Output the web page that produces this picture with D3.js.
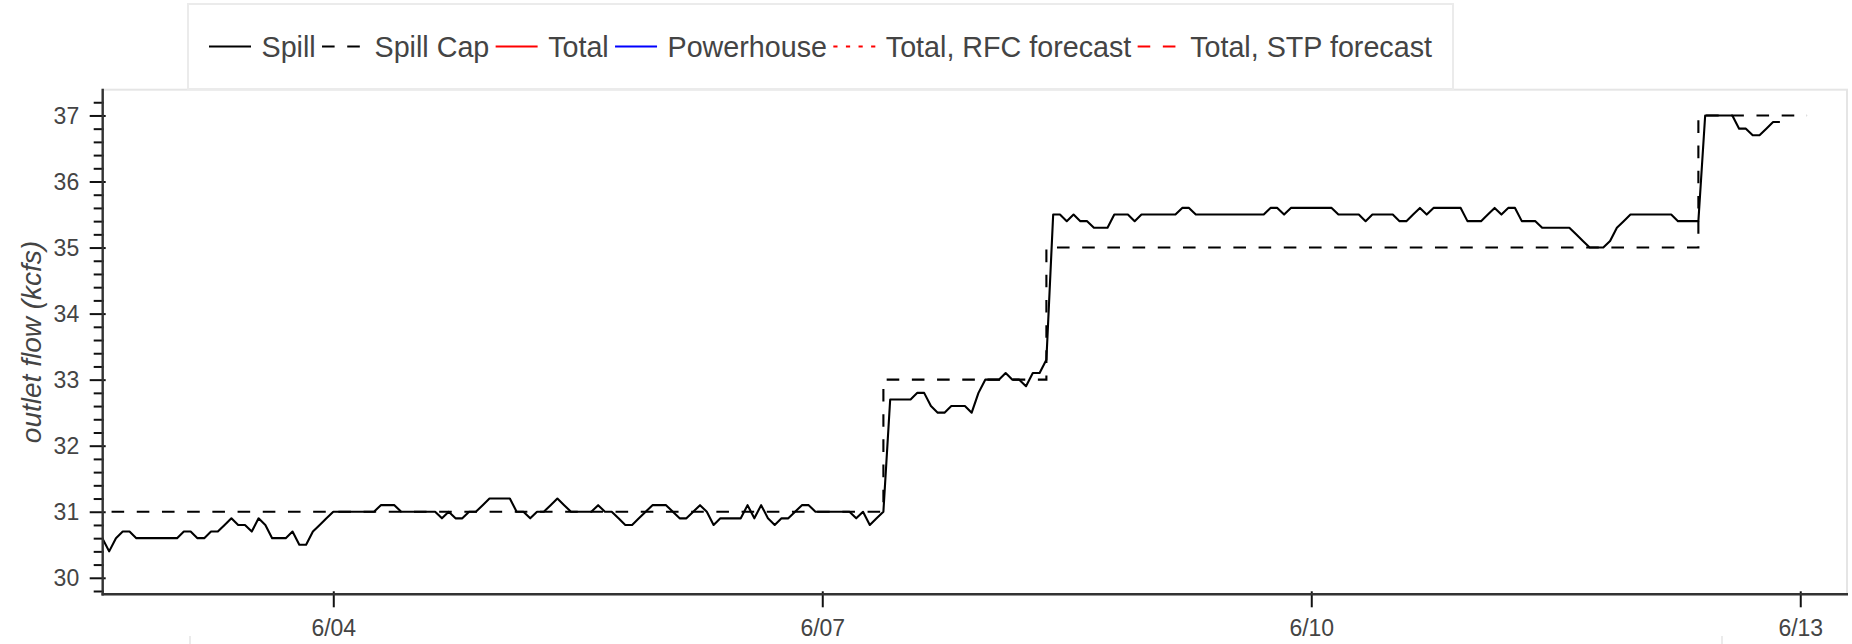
<!DOCTYPE html>
<html>
<head>
<meta charset="utf-8">
<script src="https://cdn.jsdelivr.net/npm/d3@7"></script>
<style>
  html, body { margin: 0; padding: 0; background: #fff; }
  svg { display: block; font-family: "Liberation Sans", Arial, Helvetica, sans-serif; }
</style>
</head>
<body>
<svg id="chart" width="1852" height="644"></svg>
<script>
// Hourly spill readings (kcfs), first reading at spillStart
const spillStart = "2024-06-02T14:00";
const spillValues = [
  // 6/02 14:00 - 23:00
  30.6, 30.4, 30.6, 30.7, 30.7, 30.6, 30.6, 30.6, 30.6, 30.6,
  // 6/03
  30.6, 30.6, 30.7, 30.7, 30.6, 30.6, 30.7, 30.7, 30.8, 30.9, 30.8, 30.8,
  30.7, 30.9, 30.8, 30.6, 30.6, 30.6, 30.7, 30.5, 30.5, 30.7, 30.8, 30.9,
  // 6/04
  31.0, 31.0, 31.0, 31.0, 31.0, 31.0, 31.0, 31.1, 31.1, 31.1, 31.0, 31.0,
  31.0, 31.0, 31.0, 31.0, 30.9, 31.0, 30.9, 30.9, 31.0, 31.0, 31.1, 31.2,
  // 6/05
  31.2, 31.2, 31.2, 31.0, 31.0, 30.9, 31.0, 31.0, 31.1, 31.2, 31.1, 31.0,
  31.0, 31.0, 31.0, 31.1, 31.0, 31.0, 30.9, 30.8, 30.8, 30.9, 31.0, 31.1,
  // 6/06
  31.1, 31.1, 31.0, 30.9, 30.9, 31.0, 31.1, 31.0, 30.8, 30.9, 30.9, 30.9,
  30.9, 31.1, 30.9, 31.1, 30.9, 30.8, 30.9, 30.9, 31.0, 31.1, 31.1, 31.0,
  // 6/07
  31.0, 31.0, 31.0, 31.0, 31.0, 30.9, 31.0, 30.8, 30.9, 31.0, 32.7, 32.7,
  32.7, 32.7, 32.8, 32.8, 32.6, 32.5, 32.5, 32.6, 32.6, 32.6, 32.5, 32.8,
  // 6/08
  33.0, 33.0, 33.0, 33.1, 33.0, 33.0, 32.9, 33.1, 33.1, 33.3, 35.5, 35.5,
  35.4, 35.5, 35.4, 35.4, 35.3, 35.3, 35.3, 35.5, 35.5, 35.5, 35.4, 35.5,
  // 6/09
  35.5, 35.5, 35.5, 35.5, 35.5, 35.6, 35.6, 35.5, 35.5, 35.5, 35.5, 35.5,
  35.5, 35.5, 35.5, 35.5, 35.5, 35.5, 35.6, 35.6, 35.5, 35.6, 35.6, 35.6,
  // 6/10
  35.6, 35.6, 35.6, 35.6, 35.5, 35.5, 35.5, 35.5, 35.4, 35.5, 35.5, 35.5,
  35.5, 35.4, 35.4, 35.5, 35.6, 35.5, 35.6, 35.6, 35.6, 35.6, 35.6, 35.4,
  // 6/11
  35.4, 35.4, 35.5, 35.6, 35.5, 35.6, 35.6, 35.4, 35.4, 35.4, 35.3, 35.3,
  35.3, 35.3, 35.3, 35.2, 35.1, 35.0, 35.0, 35.0, 35.1, 35.3, 35.4, 35.5,
  // 6/12 00:00 - 21:00
  35.5, 35.5, 35.5, 35.5, 35.5, 35.5, 35.4, 35.4, 35.4, 35.4, 37.0, 37.0,
  37.0, 37.0, 37.0, 36.8, 36.8, 36.7, 36.7, 36.8, 36.9, 36.9
];

// Spill cap schedule: each value holds until the next time
const capTimes = ["2024-06-02T14:00", "2024-06-07T09:00", "2024-06-08T09:00", "2024-06-12T09:00", "2024-06-13T01:00"];
const capValues = [31, 33, 35, 37, 37];

// Axis extents and ticks
const xDomain = ["2024-06-02T14:03", "2024-06-13T06:53"];
const yDomain = [29.75, 37.39];
const yMajorTicks = [30, 31, 32, 33, 34, 35, 36, 37];
const yMinorStep = 0.2;
const yAxisTitle = "outlet flow (kcfs)";

// Legend entries
const legendLabels = ["Spill", "Spill Cap", "Total", "Powerhouse", "Total, RFC forecast", "Total, STP forecast"];

const legendStyle = {
  "Spill":               { color: "#000", dash: null },
  "Spill Cap":           { color: "#000", dash: "12.6,12.6" },
  "Total":               { color: "#ff0000", dash: null },
  "Powerhouse":          { color: "#0000ff", dash: null },
  "Total, RFC forecast": { color: "#ff0000", dash: "4.2,8.4" },
  "Total, STP forecast": { color: "#ff0000", dash: "12.6,12.6" }
};

const parse = d3.timeParse("%Y-%m-%dT%H:%M");
const t0 = parse(spillStart);
const spill = spillValues.map((v, i) => ({ t: d3.timeHour.offset(t0, i), v }));
const cap = capTimes.map((s, i) => ({ t: parse(s), v: capValues[i] }));

const frame = { left: 102.7, right: 1847, top: 89.7, bottom: 594.3 };
const svg = d3.select("#chart");
const textColor = "#444";

const x = d3.scaleTime().domain(xDomain.map(parse)).range([frame.left, frame.right]);
const y = d3.scaleLinear().domain(yDomain).range([frame.bottom, frame.top]);

// frame outline
svg.append("rect")
  .attr("x", frame.left).attr("y", frame.top)
  .attr("width", frame.right - frame.left).attr("height", frame.bottom - frame.top)
  .attr("fill", "none").attr("stroke", "#e5e5e5").attr("stroke-width", 2);

// Series
const plot = svg.append("g");

plot.append("path")
  .datum(cap)
  .attr("fill", "none")
  .attr("stroke", "#000")
  .attr("stroke-width", 2.1)
  .attr("stroke-dasharray", "12.6,12.6")
  .attr("stroke-dashoffset", 16)
  .attr("d", d3.line().curve(d3.curveStepAfter).x(d => x(d.t)).y(d => y(d.v)));

plot.append("path")
  .datum(spill)
  .attr("fill", "none")
  .attr("stroke", "#000")
  .attr("stroke-width", 2.1)
  .attr("stroke-linejoin", "round")
  .attr("d", d3.line().x(d => x(d.t)).y(d => y(d.v)));

// Y axis: major ticks with labels, minor ticks every 0.2
const yMinor = d3.range(Math.ceil(yDomain[0] / yMinorStep) * yMinorStep, yDomain[1] + 1e-9, yMinorStep)
  .map(v => Math.round(v * 10) / 10)
  .filter(v => !yMajorTicks.includes(v));

const gyMinor = svg.append("g")
  .attr("transform", `translate(${frame.left},0)`)
  .call(d3.axisLeft(y).tickValues(yMinor).tickFormat("").tickSizeOuter(0));
gyMinor.select(".domain").remove();
gyMinor.selectAll(".tick line").attr("x1", 1).attr("x2", -9).attr("stroke", "#111").attr("stroke-width", 2);

const gy = svg.append("g")
  .attr("transform", `translate(${frame.left},0)`)
  .call(d3.axisLeft(y).tickValues(yMajorTicks).tickFormat(d3.format("d")).tickSizeOuter(0));
gy.select(".domain").remove();
gy.selectAll(".tick line").attr("x1", 3).attr("x2", -13).attr("stroke", "#111").attr("stroke-width", 2);
gy.selectAll(".tick text")
  .attr("x", -23.5).attr("dy", "0.35em")
  .attr("fill", textColor)
  .style("font-size", "23px")
  .style("font-family", "\"Liberation Sans\", Arial, Helvetica, sans-serif");

// X axis: day ticks every third day
const gx = svg.append("g")
  .attr("transform", `translate(0,${frame.bottom})`)
  .call(d3.axisBottom(x).ticks(d3.timeDay.every(3)).tickFormat(d3.timeFormat("%-m/%d")).tickSizeOuter(0));
gx.select(".domain").remove();
gx.selectAll(".tick line").attr("y1", -3).attr("y2", 13).attr("stroke", "#111").attr("stroke-width", 2);
gx.selectAll(".tick text")
  .attr("y", 41.5).attr("dy", 0)
  .attr("fill", textColor)
  .style("font-size", "23px")
  .style("font-family", "\"Liberation Sans\", Arial, Helvetica, sans-serif");

// axis lines
svg.append("line")
  .attr("x1", frame.left).attr("x2", frame.left)
  .attr("y1", frame.top - 1).attr("y2", frame.bottom + 1.2)
  .attr("stroke", "#333").attr("stroke-width", 2.4);
svg.append("line")
  .attr("x1", frame.left - 1.2).attr("x2", frame.right + 1)
  .attr("y1", frame.bottom).attr("y2", frame.bottom)
  .attr("stroke", "#333").attr("stroke-width", 2.4);

// Y axis title
svg.append("text")
  .attr("transform", `translate(41,${(frame.top + frame.bottom) / 2}) rotate(-90)`)
  .attr("text-anchor", "middle")
  .attr("fill", textColor)
  .style("font-size", "28px")
  .style("font-style", "italic")
  .text(yAxisTitle);

// Legend
const lg = { x: 188, y: 4, h: 85, pad: 21, glyph: 42, standoff: 10.5, spacing: 6.3, font: 28.7 };
const legend = svg.append("g");
const box = legend.append("rect")
  .attr("x", lg.x).attr("y", lg.y).attr("height", lg.h)
  .attr("fill", "#fff").attr("stroke", "#ebebeb").attr("stroke-width", 2);
const cy = lg.y + lg.h / 2;
let cx = lg.x + lg.pad;
legendLabels.forEach((name, i) => {
  const st = legendStyle[name];
  legend.append("line")
    .attr("x1", cx).attr("x2", cx + lg.glyph)
    .attr("y1", cy).attr("y2", cy)
    .attr("stroke", st.color).attr("stroke-width", 2.1)
    .attr("stroke-dasharray", st.dash);
  cx += lg.glyph + lg.standoff;
  const t = legend.append("text")
    .attr("x", cx).attr("y", cy).attr("dy", "0.35em")
    .attr("fill", textColor)
    .style("font-size", lg.font + "px")
    .text(name);
  cx += t.node().getComputedTextLength();
  if (i < legendLabels.length - 1) cx += lg.spacing;
});
box.attr("width", cx + lg.pad - lg.x);

// edge of the next panel's legend frame
[190, 1722].forEach(px => {
  svg.append("line")
    .attr("x1", px).attr("x2", px).attr("y1", 636).attr("y2", 644)
    .attr("stroke", "#ebebeb").attr("stroke-width", 2);
});
</script>
</body>
</html>
